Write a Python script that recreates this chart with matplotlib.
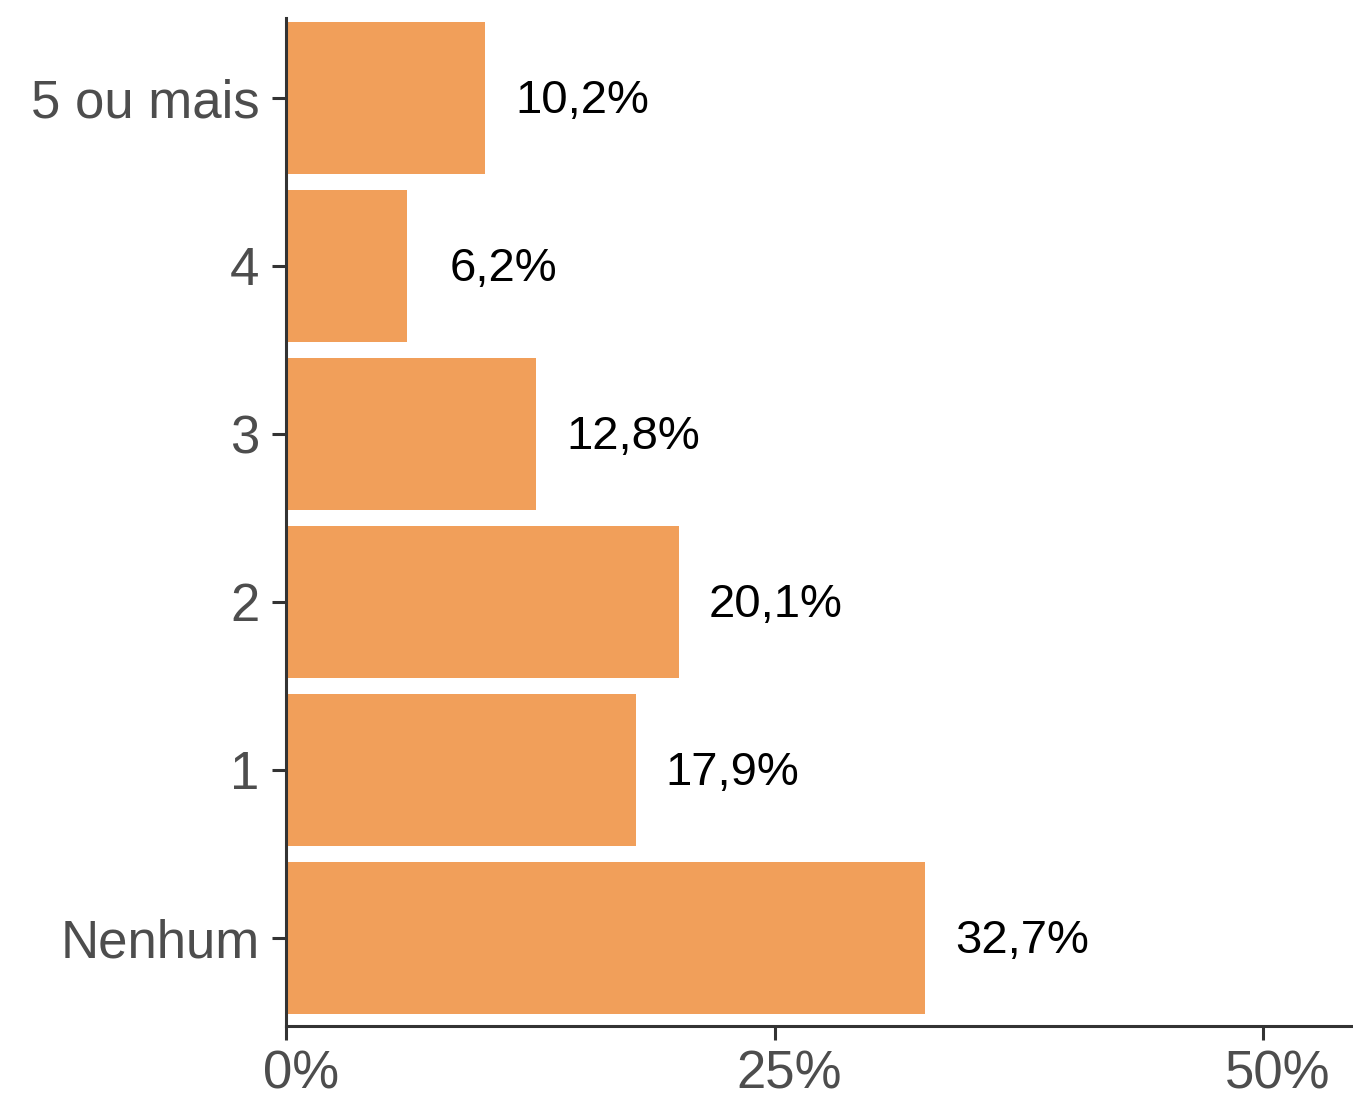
import matplotlib.pyplot as plt
import matplotlib.ticker as mticker
import matplotlib.transforms as mtransforms
import numpy as np

plt.rcParams.update({"font.family": ["Liberation Sans", "DejaVu Sans"]})

BAR = "#F19F5A"
GREY_TXT = "#4D4D4D"
AXIS = "#333333"

# Data
categories = ["Nenhum", "1", "2", "3", "4", "5 ou mais"]
shares = [32.7, 17.9, 20.1, 12.8, 6.2, 10.2]
labels = ["32,7%", "17,9%", "20,1%", "12,8%", "6,2%", "10,2%"]
xticks = [0, 25, 50]

fig = plt.figure(figsize=(13.53, 11.01), dpi=100)
ax = fig.add_axes([286 / 1353, 1 - 1026 / 1101, 1 - 286 / 1353, (1026 - 18) / 1101])

y = np.arange(len(categories))
ax.barh(y, shares, height=0.9, color=BAR, zorder=2)
for yi, v, lab in zip(y, shares, labels):
    ax.text(v + 4.95, yi - 0.02, lab, ha="center", va="center", fontsize=34, color="black")

ax.set_xlim(0, 54.6)
ax.set_ylim(-0.524, 5.476)
ax.set_yticks(y)
ax.set_yticklabels(categories)
ax.set_xticks(xticks)
ax.xaxis.set_major_formatter(mticker.FuncFormatter(lambda v, _: f"{v:.0f}%"))

for s in ["top", "right"]:
    ax.spines[s].set_visible(False)
for s in ["left", "bottom"]:
    ax.spines[s].set_color(AXIS)
    ax.spines[s].set_linewidth(2.2)

ax.tick_params(axis="both", labelsize=38, labelcolor=GREY_TXT, color=AXIS,
               length=10, width=2.2)
ax.tick_params(axis="y", pad=9)
ax.tick_params(axis="x", pad=7)

# x tick labels sit slightly right of their ticks in the original
shift = mtransforms.ScaledTranslation(15 / 100, 0, fig.dpi_scale_trans)
for lbl in ax.get_xticklabels():
    lbl.set_transform(lbl.get_transform() + shift)

fig.savefig("out.png", dpi=100)
plt.close(fig)
